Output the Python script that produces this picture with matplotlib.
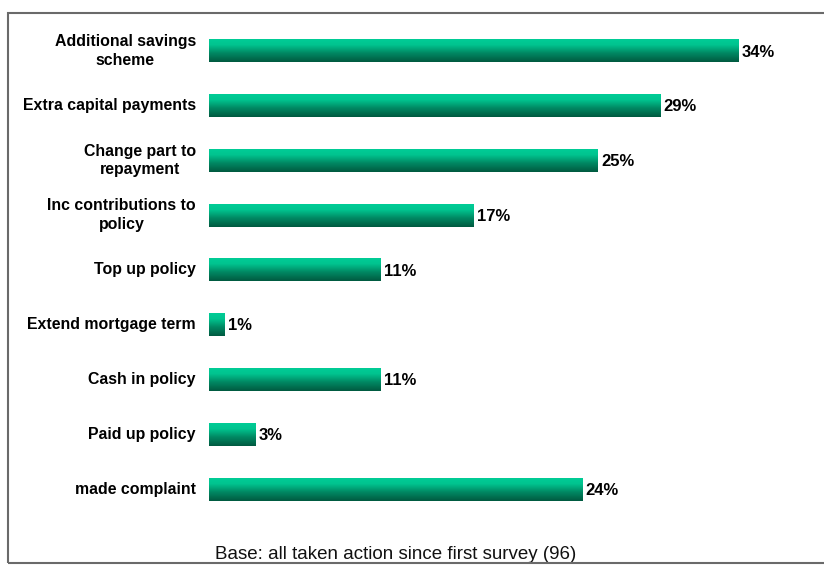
import numpy as np
import matplotlib.pyplot as plt
from matplotlib.colors import LinearSegmentedColormap
from matplotlib.patches import Rectangle

plt.rcParams['font.family'] = ['Liberation Sans', 'DejaVu Sans']

labels = ['Additional savings\nscheme', 'Extra capital payments', 'Change part to\nrepayment',
          'Inc contributions to\npolicy', 'Top up policy', 'Extend mortgage term',
          'Cash in policy', 'Paid up policy', 'made complaint']
values = [34, 29, 25, 17, 11, 1, 11, 3, 24]
footnote = 'Base: all taken action since first survey (96)'

fig = plt.figure(figsize=(8.24, 5.65), dpi=100)
ax = fig.add_axes([209 / 824, 1 - 516.4 / 565, 591 / 824, 492.8 / 565])

# green shading, bright on top and dark at the bottom of each bar
cmap = LinearSegmentedColormap.from_list('bar', [(0, '#00cc96'), (0.25, '#00c48f'),
                                                 (0.6, '#008a64'), (1, '#005a40')])
grad = np.linspace(0, 1, 64).reshape(-1, 1)
h = 0.42
for i, v in enumerate(values):
    ax.imshow(grad, cmap=cmap, aspect='auto', interpolation='bilinear',
              extent=[0, v, i + h / 2, i - h / 2], zorder=2)
    ax.text(v + 0.22, i + 0.02, f'{v}%', ha='left', va='center',
            fontsize=12, fontweight='bold', color='black')
    ax.text(-0.85, i, labels[i], ha='right', va='center', multialignment='center',
            fontsize=11.4, fontweight='bold', color='black', linespacing=1.3)

ax.set_xlim(0, 591 / 15.56)
ax.set_ylim(8.5, -0.5)
ax.axis('off')

fig.text(396 / 824, 1 - 559 / 565, footnote, ha='center', va='baseline', fontsize=13.5, color='#111111')

fig.patches.append(Rectangle((8 / 824, 1 - 563 / 565), 1.0, (563 - 13) / 565,
                             transform=fig.transFigure, fill=False,
                             edgecolor='#6a6a6a', linewidth=1.5, zorder=5))

fig.savefig('out.png', dpi=100)
